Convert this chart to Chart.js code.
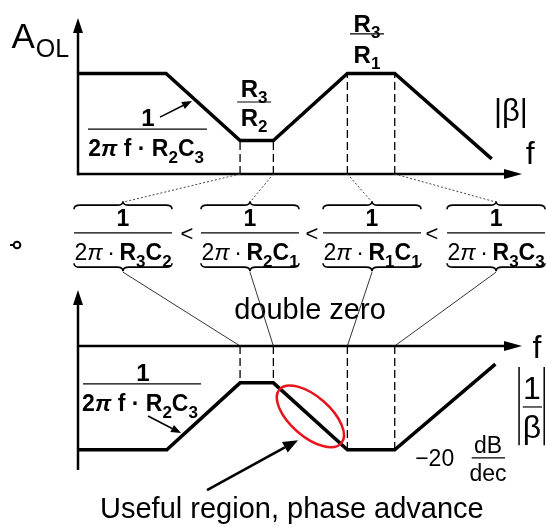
<!DOCTYPE html>
<html>
<head>
<meta charset="utf-8">
<script src="https://cdn.jsdelivr.net/npm/chart.js@4.4.1/dist/chart.umd.min.js"></script>
<style>
  html, body { margin: 0; padding: 0; background: #fff; }
  #bode { display: block; }
</style>
</head>
<body>
<canvas id="bode" width="546" height="527"></canvas>
<script>
// corner positions on the log-f axis, in decades from the origin
const betaCorners = [0, 1.19, 2.19, 2.64, 3.64, 4.28, 5.59];
const betaDb = [30, 30, 10, 10, 30, 30, 4.5];               // |β|
const invCorners = [0, 1.2, 2.19, 2.64, 3.64, 4.28, 5.64];
const invBetaDb = [-31, -31, -11, -11, -31, -31, -5.4];     // |1/β|

// the four pole/zero frequencies that get dashed markers
const markIdx = [2, 3, 4, 5];
const markTerms = ['R_3C_2', 'R_2C_1', 'R_1C_1', 'R_3C_3'];

const FONT = '"Liberation Sans", Arial, sans-serif';
const THIN = '\u2009';

const pts = (xs, ys) => xs.map((x, i) => ({ x, y: ys[i] }));

const curve = (data, axis) => ({
  data, yAxisID: axis,
  borderColor: '#000', borderWidth: 3.5,
  borderJoinStyle: 'miter', pointRadius: 0, tension: 0
});

const marker = (x, y, axis) => ({
  data: [{ x, y: 0 }, { x, y }], yAxisID: axis,
  borderColor: '#000', borderWidth: 1.3, borderDash: [8, 4],
  pointRadius: 0
});

const datasets = [
  curve(pts(betaCorners, betaDb), 'yTop'),
  curve(pts(invCorners, invBetaDb), 'yBot'),
  ...markIdx.map(i => marker(betaCorners[i], betaDb[i], 'yTop')),
  ...markIdx.map(i => marker(invCorners[i], invBetaDb[i], 'yBot'))
];

// tiny markup: *bold*, ~italic~, _x subscript
function parse(str) {
  const parts = [];
  let b = false, it = false, sub = false;
  for (const ch of str) {
    if (ch === '*') { b = !b; continue; }
    if (ch === '~') { it = !it; continue; }
    if (ch === '_') { sub = true; continue; }
    parts.push({ t: ch, b, i: it, s: sub });
    sub = false;
  }
  return parts;
}

function rich(ctx, str, cx, cy, size) {
  const parts = parse(str);
  const fontOf = p => `${p.i ? 'italic ' : ''}${p.b ? 'bold ' : ''}${p.s ? Math.round(size * 0.72) : size}px ${FONT}`;
  let w = 0;
  parts.forEach(p => { ctx.font = fontOf(p); p.w = ctx.measureText(p.t).width; w += p.w; });
  let xx = cx - w / 2;
  const base = cy + size * 0.36;
  ctx.textAlign = 'left';
  ctx.textBaseline = 'alphabetic';
  parts.forEach(p => {
    ctx.font = fontOf(p);
    ctx.fillText(p.t, xx, base + (p.s ? size * 0.28 : 0));
    xx += p.w;
  });
}

function line(ctx, x0, y0, x1, y1, lw) {
  ctx.lineWidth = lw;
  ctx.beginPath();
  ctx.moveTo(x0, y0);
  ctx.lineTo(x1, y1);
  ctx.stroke();
}

function arrow(ctx, x0, y0, x1, y1, len, half, lw) {
  const a = Math.atan2(y1 - y0, x1 - x0);
  const bx = x1 - len * Math.cos(a), by = y1 - len * Math.sin(a);
  line(ctx, x0, y0, bx, by, lw);
  ctx.beginPath();
  ctx.moveTo(x1, y1);
  ctx.lineTo(bx + half * Math.sin(a), by - half * Math.cos(a));
  ctx.lineTo(bx - half * Math.sin(a), by + half * Math.cos(a));
  ctx.closePath();
  ctx.fill();
}

// horizontal curly brace; dir -1 puts the tip up, +1 down
function brace(ctx, xc, half, y, dir) {
  const d = 4, r = 6;
  const x0 = xc - half, x1 = xc + half;
  ctx.lineWidth = 1.6;
  ctx.beginPath();
  ctx.moveTo(x0, y - dir * d);
  ctx.quadraticCurveTo(x0, y, x0 + r, y);
  ctx.lineTo(xc - r, y);
  ctx.quadraticCurveTo(xc, y, xc, y + dir * d);
  ctx.quadraticCurveTo(xc, y, xc + r, y);
  ctx.lineTo(x1 - r, y);
  ctx.quadraticCurveTo(x1, y, x1, y - dir * d);
  ctx.stroke();
}

// brace centres for the four corner-frequency terms
const braceX = [0.608, 2.324, 3.973, 5.649];
const lessX = [1.473, 3.162, 4.784];

const overlay = {
  id: 'overlay',
  afterDatasetsDraw(chart) {
    const { ctx, scales } = chart;
    const X = v => scales.x.getPixelForValue(v);
    const T = v => scales.yTop.getPixelForValue(v);
    const B = v => scales.yBot.getPixelForValue(v);
    ctx.save();
    ctx.fillStyle = '#000';
    ctx.strokeStyle = '#000';

    // axes
    arrow(ctx, X(0), T(-0.4), X(0), T(46.6), 15, 5, 2.5);
    arrow(ctx, X(0), T(0), X(6), T(0), 18, 5, 2.5);
    arrow(ctx, X(0), B(-37), X(0), B(16.7), 15, 5, 2.5);
    arrow(ctx, X(0), B(0), X(6), B(0), 18, 5, 2.5);

    // top plot labels
    ctx.textAlign = 'left';
    ctx.textBaseline = 'alphabetic';
    ctx.font = `35px ${FONT}`;
    ctx.fillText('A', X(-0.9), T(37.6));
    const aw = ctx.measureText('A').width;
    ctx.font = `25px ${FONT}`;
    ctx.fillText('OL', X(-0.9) + aw + 1, T(35));

    rich(ctx, '*R_3*', X(2.38), T(25.7), 24);
    line(ctx, X(2.38) - 17, T(21.5), X(2.38) + 17, T(21.5), 1.2);
    rich(ctx, '*R_2*', X(2.38), T(17.0), 24);

    rich(ctx, '*R_3*', X(3.905), T(45.1), 24);
    line(ctx, X(3.905) - 17, T(41.8), X(3.905) + 17, T(41.8), 1.2);
    rich(ctx, '*R_1*', X(3.905), T(35.8), 24);

    rich(ctx, '|β|', X(5.85), T(19.1), 31);
    rich(ctx, 'f', X(6.11), T(6.3), 32);

    rich(ctx, '*1*', X(0.946), T(17.0), 24);
    line(ctx, X(0.135), T(13.4), X(1.743), T(13.4), 1.2);
    rich(ctx, '*2~π~ f · R_2C_3*', X(0.92), T(7.76), 23);
    arrow(ctx, X(1.108), T(17.0), X(1.54), T(21.8), 10, 4, 1.5);

    // corner frequency terms between the plots
    braceX.forEach((bx, k) => {
      const cx = X(bx);
      brace(ctx, cx, 49, T(-9.3), -1);
      brace(ctx, cx, 49, T(-27.8), 1);
      rich(ctx, '*1*', cx, T(-13.1), 23);
      line(ctx, cx - 49, T(-17.6), cx + 49, T(-17.6), 1.2);
      rich(ctx, '2~π~' + THIN + '·' + THIN + '*' + markTerms[k] + '*', cx, T(-23.3), 23);

      const fi = markIdx[k];
      ctx.save();
      ctx.strokeStyle = '#444';
      ctx.setLineDash([2, 2]);
      line(ctx, X(betaCorners[fi]), T(0), cx, T(-8.4), 1);
      ctx.restore();
      line(ctx, cx, T(-29.3), X(invCorners[fi]), B(0), 0.8);
    });
    lessX.forEach(lx => rich(ctx, '<', X(lx), T(-17.6), 22));

    ctx.lineWidth = 2;
    ctx.beginPath();
    ctx.arc(X(-0.824), T(-21.2), 3.3, 0, Math.PI * 2);
    ctx.stroke();
    line(ctx, X(-0.824) - 7, T(-21.2), X(-0.824) - 3.3, T(-21.2), 2);

    // bottom plot labels
    rich(ctx, 'double zero', X(3.135), B(11.3), 29);
    rich(ctx, 'f', X(6.2), B(0), 32);

    rich(ctx, '*1*', X(0.878), B(-7.8), 24);
    line(ctx, X(0.068), B(-11.3), X(1.662), B(-11.3), 1.2);
    rich(ctx, '*2~π~ f · R_2C_3*', X(0.838), B(-17.0), 23);
    arrow(ctx, X(0.946), B(-20.9), X(1.392), B(-26.0), 10, 4, 1.5);

    rich(ctx, '−20', X(4.82), B(-33.4), 23);
    rich(ctx, 'dB', X(5.54), B(-29.4), 23);
    line(ctx, X(5.32), B(-33.4), X(5.77), B(-33.4), 1.2);
    rich(ctx, 'dec', X(5.54), B(-37.9), 23);

    line(ctx, X(5.96), B(-6.3), X(5.96), B(-29.6), 1.5);
    line(ctx, X(6.30), B(-6.3), X(6.30), B(-29.6), 1.5);
    rich(ctx, '1', X(6.135), B(-12.3), 32);
    line(ctx, X(6.01), B(-18.2), X(6.27), B(-18.2), 1.2);
    rich(ctx, 'β', X(6.135), B(-24.0), 32);

    ctx.strokeStyle = '#e8141c';
    ctx.lineWidth = 2.5;
    ctx.beginPath();
    ctx.ellipse(X(3.14), B(-21), 41, 20, 41 * Math.PI / 180, 0, Math.PI * 2);
    ctx.stroke();

    ctx.strokeStyle = '#000';
    arrow(ctx, X(1.743), B(-43), X(2.973), B(-28.1), 15, 6, 2.5);
    rich(ctx, 'Useful region, phase advance', X(2.89), B(-48.1), 29);

    ctx.restore();
  }
};

new Chart(document.getElementById('bode'), {
  type: 'line',
  data: { datasets },
  options: {
    responsive: false,
    animation: false,
    devicePixelRatio: 1,
    layout: { padding: 0 },
    plugins: { legend: { display: false }, tooltip: { enabled: false } },
    scales: {
      x: { type: 'linear', min: -1.054, max: 6.324, display: false },
      yTop: { type: 'linear', min: -105.37, max: 51.94, display: false },
      yBot: { type: 'linear', min: -54.03, max: 103.28, display: false }
    }
  },
  plugins: [overlay]
});
</script>
</body>
</html>
